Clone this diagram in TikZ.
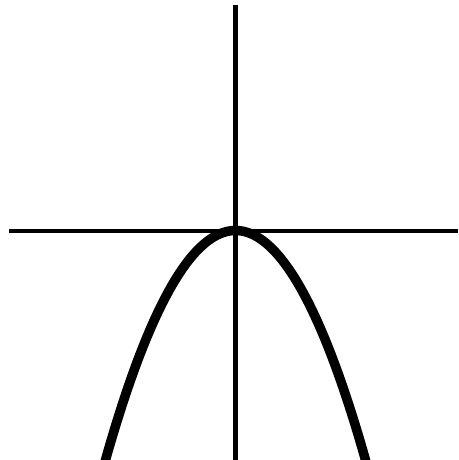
\documentclass[tikz,border=0pt]{standalone}
\begin{document}
\begin{tikzpicture}[x=1pt,y=-1pt,
  axis/.style={line width=4.3pt},
  curve/.style={line width=9.5pt}]
\useasboundingbox (0,0) rectangle (458,460);
\clip (0,0) rectangle (458,460);
\coordinate (xl) at (9,230.7);
\coordinate (xr) at (458,230.7);
\coordinate (yt) at (235.5,5.5);
\coordinate (yb) at (235.5,460);
\draw[axis] (xl) -- (xr);
\draw[axis] (yt) -- (yb);
\draw[curve, domain=-150:150, samples=121, smooth]
  plot ({235.5+\x},{230.5+229.5*(\x/130)*(\x/130)});
\end{tikzpicture}
\end{document}
